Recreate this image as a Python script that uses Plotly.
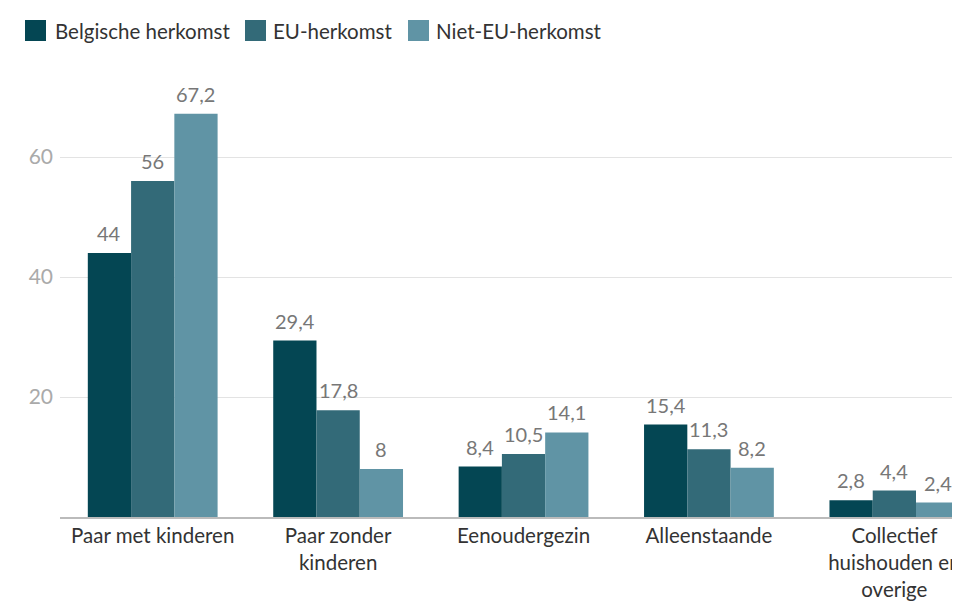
import plotly.graph_objects as go

# Categories and values
categories = [
    "Paar met kinderen",
    "Paar zonder<br>kinderen",
    "Eenoudergezin",
    "Alleenstaande",
    "Collectief<br>huishouden en<br>overige",
]
belgisch = [44, 29.4, 8.4, 15.4, 2.8]
eu = [56, 17.8, 10.5, 11.3, 4.4]
niet_eu = [67.2, 8, 14.1, 8.2, 2.4]

series = [
    ("Belgische herkomst", belgisch, "#044653"),
    ("EU-herkomst", eu, "#336a78"),
    ("Niet-EU-herkomst", niet_eu, "#6094a5"),
]

# page body has an 8px margin, so the figure is a bit smaller than the window
L, T, B, W, H = 52, 89, 84, 952, 593
PW, PH = W - L, H - T - B
BARGAP = 0.3


def px_x(x):
    return (x - 8 - L) / PW


def px_y(y):
    return (H - B - (y - 8)) / PH


fig = go.Figure()
bar_w = (1 - BARGAP) / len(series)
for j, (name, vals, color) in enumerate(series):
    xs = list(range(len(categories)))
    fig.add_trace(go.Bar(
        x=xs,
        y=vals,
        name=name,
        marker=dict(color=color, line=dict(width=0)),
    ))
    # value labels a little higher above the bars than plotly's own text
    for i, v in zip(xs, vals):
        fig.add_annotation(
            x=i + (j - 1) * bar_w, y=v, xref="x", yref="y",
            text=f"{v:g}".replace(".", ","),
            yanchor="bottom", yshift=6, showarrow=False,
            font=dict(size=20, color="#777777"),
        )

# legend drawn by hand (big squares like the reference)
legend_pos = [(25, 55), (245, 273), (408, 436)]
for (name, _, color), (sx, tx) in zip(series, legend_pos):
    fig.add_shape(type="rect", xref="paper", yref="paper",
                  x0=px_x(sx), x1=px_x(sx + 21), y0=px_y(41), y1=px_y(20),
                  fillcolor=color, line=dict(width=0))
    fig.add_annotation(text=name, xref="paper", yref="paper",
                       x=px_x(tx - 2), y=px_y(31), xanchor="left", yanchor="middle",
                       showarrow=False, font=dict(size=20.5, color="#333333"))

fig.update_layout(
    width=W,
    height=H,
    barmode="group",
    bargap=BARGAP,
    bargroupgap=0,
    plot_bgcolor="white",
    paper_bgcolor="white",
    font=dict(family="Lato", size=20, color="#333333"),
    margin=dict(l=L, r=0, t=T, b=B),
    showlegend=False,
    xaxis=dict(
        tickmode="array",
        tickvals=list(range(len(categories))),
        ticktext=categories,
        range=[-0.5, 4.354],
        automargin=False,
        showline=True,
        linecolor="#bbbbbb",
        linewidth=1.5,
        showgrid=False,
        ticks="",
        ticklabeloverflow="allow",
        tickfont=dict(size=20.5, color="#333333"),
    ),
    yaxis=dict(
        range=[0, 70],
        tickvals=[20, 40, 60],
        automargin=False,
        showgrid=True,
        gridcolor="#e3e3e3",
        gridwidth=1,
        zeroline=False,
        ticks="",
        ticklabelstandoff=6,
        tickfont=dict(size=21, color="#aaaaaa"),
    ),
)

fig.write_html("out.html")
